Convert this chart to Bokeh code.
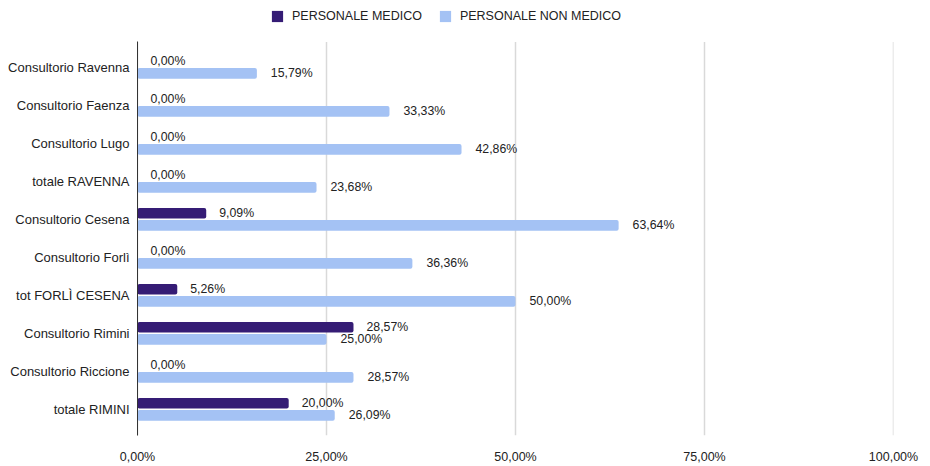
from bokeh.plotting import figure
from bokeh.models import (ColumnDataSource, Range1d, FixedTicker,
                          Legend, LegendItem)
from bokeh.transform import dodge
from bokeh.core.properties import value
from bokeh.embed import file_html
from bokeh.resources import INLINE

categories = ["Consultorio Ravenna", "Consultorio Faenza", "Consultorio Lugo",
              "totale RAVENNA", "Consultorio Cesena", "Consultorio Forlì",
              "tot FORLÌ CESENA", "Consultorio Rimini", "Consultorio Riccione",
              "totale RIMINI"]
medico = [0.00, 0.00, 0.00, 0.00, 9.09, 0.00, 5.26, 28.57, 0.00, 20.00]
non_medico = [15.79, 33.33, 42.86, 23.68, 63.64, 36.36, 50.00, 25.00, 28.57, 26.09]
series_names = ["PERSONALE MEDICO", "PERSONALE NON MEDICO"]
x_ticks = [0, 25, 50, 75, 100]
x_tick_labels = ["0,00%", "25,00%", "50,00%", "75,00%", "100,00%"]

DARK = "#351c75"
LIGHT = "#a4c2f4"
FONT = "Liberation Sans"
TXT = "#222222"


def fmt(v):
    return f"{v:.2f}".replace(".", ",") + "%"


n = len(categories)
ypos = [n - 1 - i for i in range(n)]  # first category on top

src = ColumnDataSource(dict(
    y=ypos,
    cat=categories,
    med=medico,
    nonmed=non_medico,
    med_lbl=[fmt(v) for v in medico],
    nonmed_lbl=[fmt(v) for v in non_medico],
))

Y0, Y1 = -0.69, n - 0.33          # category area
YTOP = 10.654                     # room above for the legend

p = figure(width=930, height=466, y_range=Range1d(Y0, YTOP), x_range=Range1d(0, 100),
           output_backend="svg", toolbar_location=None,
           min_border_left=137, min_border_right=37,
           min_border_top=4, min_border_bottom=24)
p.outline_line_color = None
p.background_fill_color = "white"

# vertical grid lines at tick positions
grid_src = ColumnDataSource(dict(x=x_ticks, y0=[Y0] * len(x_ticks), y1=[Y1] * len(x_ticks)))
p.segment(x0="x", x1="x", y0="y0", y1="y1", source=grid_src,
          line_color="#d9d9d9", line_width=1.5)

r1 = p.hbar(y=dodge("y", 0.16), left=0, right="med", height=0.28,
            source=src, fill_color=DARK, line_color=None, border_radius=2)
r2 = p.hbar(y=dodge("y", -0.16), left=0, right="nonmed", height=0.28,
            source=src, fill_color=LIGHT, line_color=None, border_radius=2)

p.text(x="med", y=dodge("y", 0.16), text="med_lbl", source=src,
       x_offset=13, text_baseline="middle", text_align="left",
       text_font=value(FONT), text_font_size="12.3px", text_color=TXT)
p.text(x="nonmed", y=dodge("y", -0.16), text="nonmed_lbl", source=src,
       x_offset=14, text_baseline="middle", text_align="left",
       text_font=value(FONT), text_font_size="12.3px", text_color=TXT)

# axes
p.xaxis.ticker = FixedTicker(ticks=x_ticks)
p.xaxis.major_label_overrides = {t: l for t, l in zip(x_ticks, x_tick_labels)}
p.xaxis.axis_line_color = None
p.xaxis.major_tick_line_color = None
p.xaxis.minor_tick_line_color = None
p.xaxis.major_label_standoff = 8
p.xaxis.major_label_text_font = FONT
p.xaxis.major_label_text_font_size = "12.5px"
p.xaxis.major_label_text_color = TXT

p.yaxis.ticker = FixedTicker(ticks=ypos)
p.yaxis.major_label_overrides = {y: c for y, c in zip(ypos, categories)}
p.yaxis.bounds = (Y0, Y1)
p.yaxis.axis_line_color = "#333333"
p.yaxis.axis_line_width = 1
p.yaxis.major_tick_line_color = None
p.yaxis.minor_tick_line_color = None
p.yaxis.major_label_standoff = 2
p.yaxis.major_label_text_font = FONT
p.yaxis.major_label_text_font_size = "13px"
p.yaxis.major_label_text_color = TXT

p.xgrid.grid_line_color = None
p.ygrid.grid_line_color = None

legend = Legend(items=[LegendItem(label=series_names[0], renderers=[r1]),
                       LegendItem(label=series_names[1], renderers=[r2])],
                location=(133, 412), orientation="horizontal",
                glyph_width=14, glyph_height=14, label_standoff=8, spacing=16,
                padding=0, margin=0, border_line_color=None,
                background_fill_alpha=0,
                label_text_font=FONT, label_text_font_size="12.5px",
                label_text_color=TXT)
p.add_layout(legend, "center")

open("out.html", "w").write(file_html(p, INLINE))
